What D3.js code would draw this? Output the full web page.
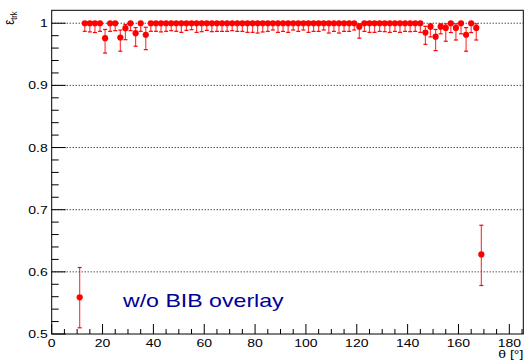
<!DOCTYPE html>
<html>
<head>
<meta charset="utf-8">
<script src="https://cdn.jsdelivr.net/npm/d3@7"></script>
<style>
  html, body { margin: 0; padding: 0; background: #fff; }
  svg { display: block; }
  text { font-family: "Liberation Sans", Arial, Helvetica, sans-serif; }
</style>
</head>
<body>
<svg id="chart" width="527" height="363"></svg>
<script>
// Tracking efficiency vs polar angle, 2-degree bins
const theta = [
  11, 13, 15, 17, 19, 21, 23, 25, 27, 29,
  31, 33, 35, 37, 39, 41, 43, 45, 47, 49,
  51, 53, 55, 57, 59, 61, 63, 65, 67, 69,
  71, 73, 75, 77, 79, 81, 83, 85, 87, 89,
  91, 93, 95, 97, 99, 101, 103, 105, 107, 109,
  111, 113, 115, 117, 119, 121, 123, 125, 127, 129,
  131, 133, 135, 137, 139, 141, 143, 145, 147, 149,
  151, 153, 155, 157, 159, 161, 163, 165, 167, 169
];
const thetaHalfWidth = 1;
const efficiency = [
  0.559, 1, 1, 1, 1, 0.976, 1, 1, 0.977, 0.992,
  1, 0.984, 1, 0.9815, 1, 1, 1, 1, 1, 1,
  1, 1, 1, 1, 1, 1, 1, 1, 1, 1,
  1, 1, 1, 1, 1, 1, 1, 1, 1, 1,
  1, 1, 1, 1, 1, 1, 1, 1, 1, 1,
  1, 1, 1, 1, 1, 0.9945, 1, 1, 1, 1,
  1, 1, 1, 1, 1, 1, 1, 1, 0.985, 0.9945,
  0.9784, 0.9945, 0.9925, 1, 0.9925, 1, 0.9815, 1, 0.9925, 0.628
];
const errLow = [
  0.049, 0.013, 0.014, 0.015, 0.013, 0.024, 0.013, 0.012, 0.022, 0.0185,
  0.012, 0.021, 0.013, 0.024, 0.013, 0.013, 0.014, 0.013, 0.012, 0.013,
  0.0147, 0.0115, 0.0104, 0.0147, 0.0136, 0.0115, 0.0136, 0.0131, 0.0131, 0.0131,
  0.012, 0.0131, 0.0131, 0.0147, 0.0147, 0.0158, 0.0141, 0.0131, 0.0109, 0.0147,
  0.0131, 0.0147, 0.0109, 0.0131, 0.0109, 0.0147, 0.0131, 0.0131, 0.0109, 0.0158,
  0.0131, 0.0158, 0.0131, 0.0131, 0.0109, 0.0185, 0.0131, 0.0147, 0.0147, 0.0131,
  0.0136, 0.0147, 0.0131, 0.0147, 0.0131, 0.0136, 0.0131, 0.0147, 0.019, 0.0165,
  0.0224, 0.0115, 0.0215, 0.015, 0.0195, 0.017, 0.0265, 0.015, 0.0195, 0.050
];
const errHigh = [
  0.048, 0, 0, 0, 0, 0.014, 0, 0, 0.012, 0.006,
  0, 0.009, 0, 0.012, 0, 0, 0, 0, 0, 0,
  0, 0, 0, 0, 0, 0, 0, 0, 0, 0,
  0, 0, 0, 0, 0, 0, 0, 0, 0, 0,
  0, 0, 0, 0, 0, 0, 0, 0, 0, 0,
  0, 0, 0, 0, 0, 0.0045, 0, 0, 0, 0,
  0, 0, 0, 0, 0, 0, 0, 0, 0.010, 0.0045,
  0.0116, 0.0045, 0.0065, 0, 0.0065, 0, 0.0115, 0, 0.0065, 0.047
];

const xTicks = [0, 20, 40, 60, 80, 100, 120, 140, 160, 180];
const yTicks = [0.5, 0.6, 0.7, 0.8, 0.9, 1.0];
const yTickLabels = ["0.5", "0.6", "0.7", "0.8", "0.9", "1"];
const gridValues = [0.6, 0.7, 0.8, 0.9, 1.0];
const xDomain = [0, 185.5];
const yDomain = [0.5, 1.0208];
const xTitle = "θ [°]";
const yTitleMain = "ε";
const yTitleSub = "trk";
const annotation = "w/o BIB overlay";

const svg = d3.select("#chart");
const frame = { left: 51.7, right: 523.3, top: 10.3, bottom: 334 };
const stretch = 1.25;       // horizontal stretch applied to all text
const fontSize = 11.2;

const x = d3.scaleLinear().domain(xDomain).range([frame.left, frame.right]);
const y = d3.scaleLinear().domain(yDomain).range([frame.bottom, frame.top]);

// dotted horizontal grid
svg.append("g").selectAll("line").data(gridValues).join("line")
  .attr("x1", frame.left).attr("x2", frame.right)
  .attr("y1", d => y(d)).attr("y2", d => y(d))
  .attr("stroke", "#000").attr("stroke-width", 1)
  .attr("stroke-dasharray", "1,2");

// x axis ticks (inward), minor every 5 degrees
const xMinor = d3.range(0, 185.01, 5);
svg.append("g").selectAll("line").data(xMinor).join("line")
  .attr("x1", d => x(d)).attr("x2", d => x(d))
  .attr("y1", frame.bottom)
  .attr("y2", d => frame.bottom - (d % 20 === 0 ? 10 : 5))
  .attr("stroke", "#000").attr("stroke-width", 1);

// y axis ticks (inward), minor every 0.02
const yMinor = d3.range(0, 26).map(i => 0.5 + i * 0.02).filter(v => v <= yDomain[1]);
svg.append("g").selectAll("line").data(yMinor).join("line")
  .attr("y1", d => y(d)).attr("y2", d => y(d))
  .attr("x1", frame.left)
  .attr("x2", (d, i) => frame.left + (i % 5 === 0 ? 14 : 7))
  .attr("stroke", "#000").attr("stroke-width", 1);

// frame
svg.append("rect")
  .attr("x", frame.left).attr("y", frame.top)
  .attr("width", frame.right - frame.left)
  .attr("height", frame.bottom - frame.top)
  .attr("fill", "none").attr("stroke", "#000").attr("stroke-width", 1);

// tick labels
const xl = svg.append("g").selectAll("g").data(xTicks).join("g")
  .attr("transform", d => `translate(${x(d)},347) scale(${stretch},1)`);
xl.append("text").attr("text-anchor", "middle")
  .attr("font-size", fontSize).attr("fill", "#000").text(d => d);

const yl = svg.append("g").selectAll("g").data(yTicks).join("g")
  .attr("transform", d => `translate(47.7,${y(d) + 4}) scale(${stretch},1)`);
yl.append("text").attr("text-anchor", "end")
  .attr("font-size", fontSize).attr("fill", "#000")
  .text((d, i) => yTickLabels[i]);

// axis titles
svg.append("g").attr("transform", `translate(${frame.right},358) scale(${stretch},1)`)
  .append("text").attr("text-anchor", "end").attr("font-size", fontSize)
  .attr("fill", "#000").text(xTitle);

const yt = svg.append("g").attr("transform", `translate(13.8,11.5) scale(${stretch},1) rotate(-90)`)
  .append("text").attr("text-anchor", "end").attr("font-size", fontSize).attr("fill", "#000");
yt.append("tspan").text(yTitleMain);
yt.append("tspan").attr("font-size", 7.5).attr("dy", 2.5).text(yTitleSub);

// annotation
svg.append("g").attr("transform", `translate(123,307.3) scale(${stretch},1)`)
  .append("text").attr("font-size", 18.5).attr("fill", "#000099").text(annotation);

// data: error bars then markers
const pts = theta.map((t, i) => ({ t, e: efficiency[i], lo: errLow[i], hi: errHigh[i] }));
const red = "#ff0000";
const bars = svg.append("g").attr("stroke", red).attr("stroke-width", 1.2).attr("stroke-opacity", 0.75);
bars.selectAll("line.v").data(pts).join("line").attr("class", "v")
  .attr("x1", d => x(d.t)).attr("x2", d => x(d.t))
  .attr("y1", d => y(d.e - d.lo)).attr("y2", d => y(d.e + d.hi));
bars.selectAll("line.h").data(pts).join("line").attr("class", "h")
  .attr("x1", d => x(d.t - thetaHalfWidth)).attr("x2", d => x(d.t + thetaHalfWidth))
  .attr("y1", d => y(d.e)).attr("y2", d => y(d.e));
bars.selectAll("line.cl").data(pts.filter(d => d.lo > 0)).join("line").attr("class", "cl")
  .attr("x1", d => x(d.t) - 2).attr("x2", d => x(d.t) + 2)
  .attr("y1", d => y(d.e - d.lo)).attr("y2", d => y(d.e - d.lo))
  .attr("stroke-opacity", 1);
bars.selectAll("line.ch").data(pts.filter(d => d.hi > 0)).join("line").attr("class", "ch")
  .attr("x1", d => x(d.t) - 2).attr("x2", d => x(d.t) + 2)
  .attr("y1", d => y(d.e + d.hi)).attr("y2", d => y(d.e + d.hi))
  .attr("stroke-opacity", 1);

svg.append("g").selectAll("circle").data(pts).join("circle")
  .attr("cx", d => x(d.t)).attr("cy", d => y(d.e)).attr("r", 3.1)
  .attr("fill", red);
</script>
</body>
</html>
